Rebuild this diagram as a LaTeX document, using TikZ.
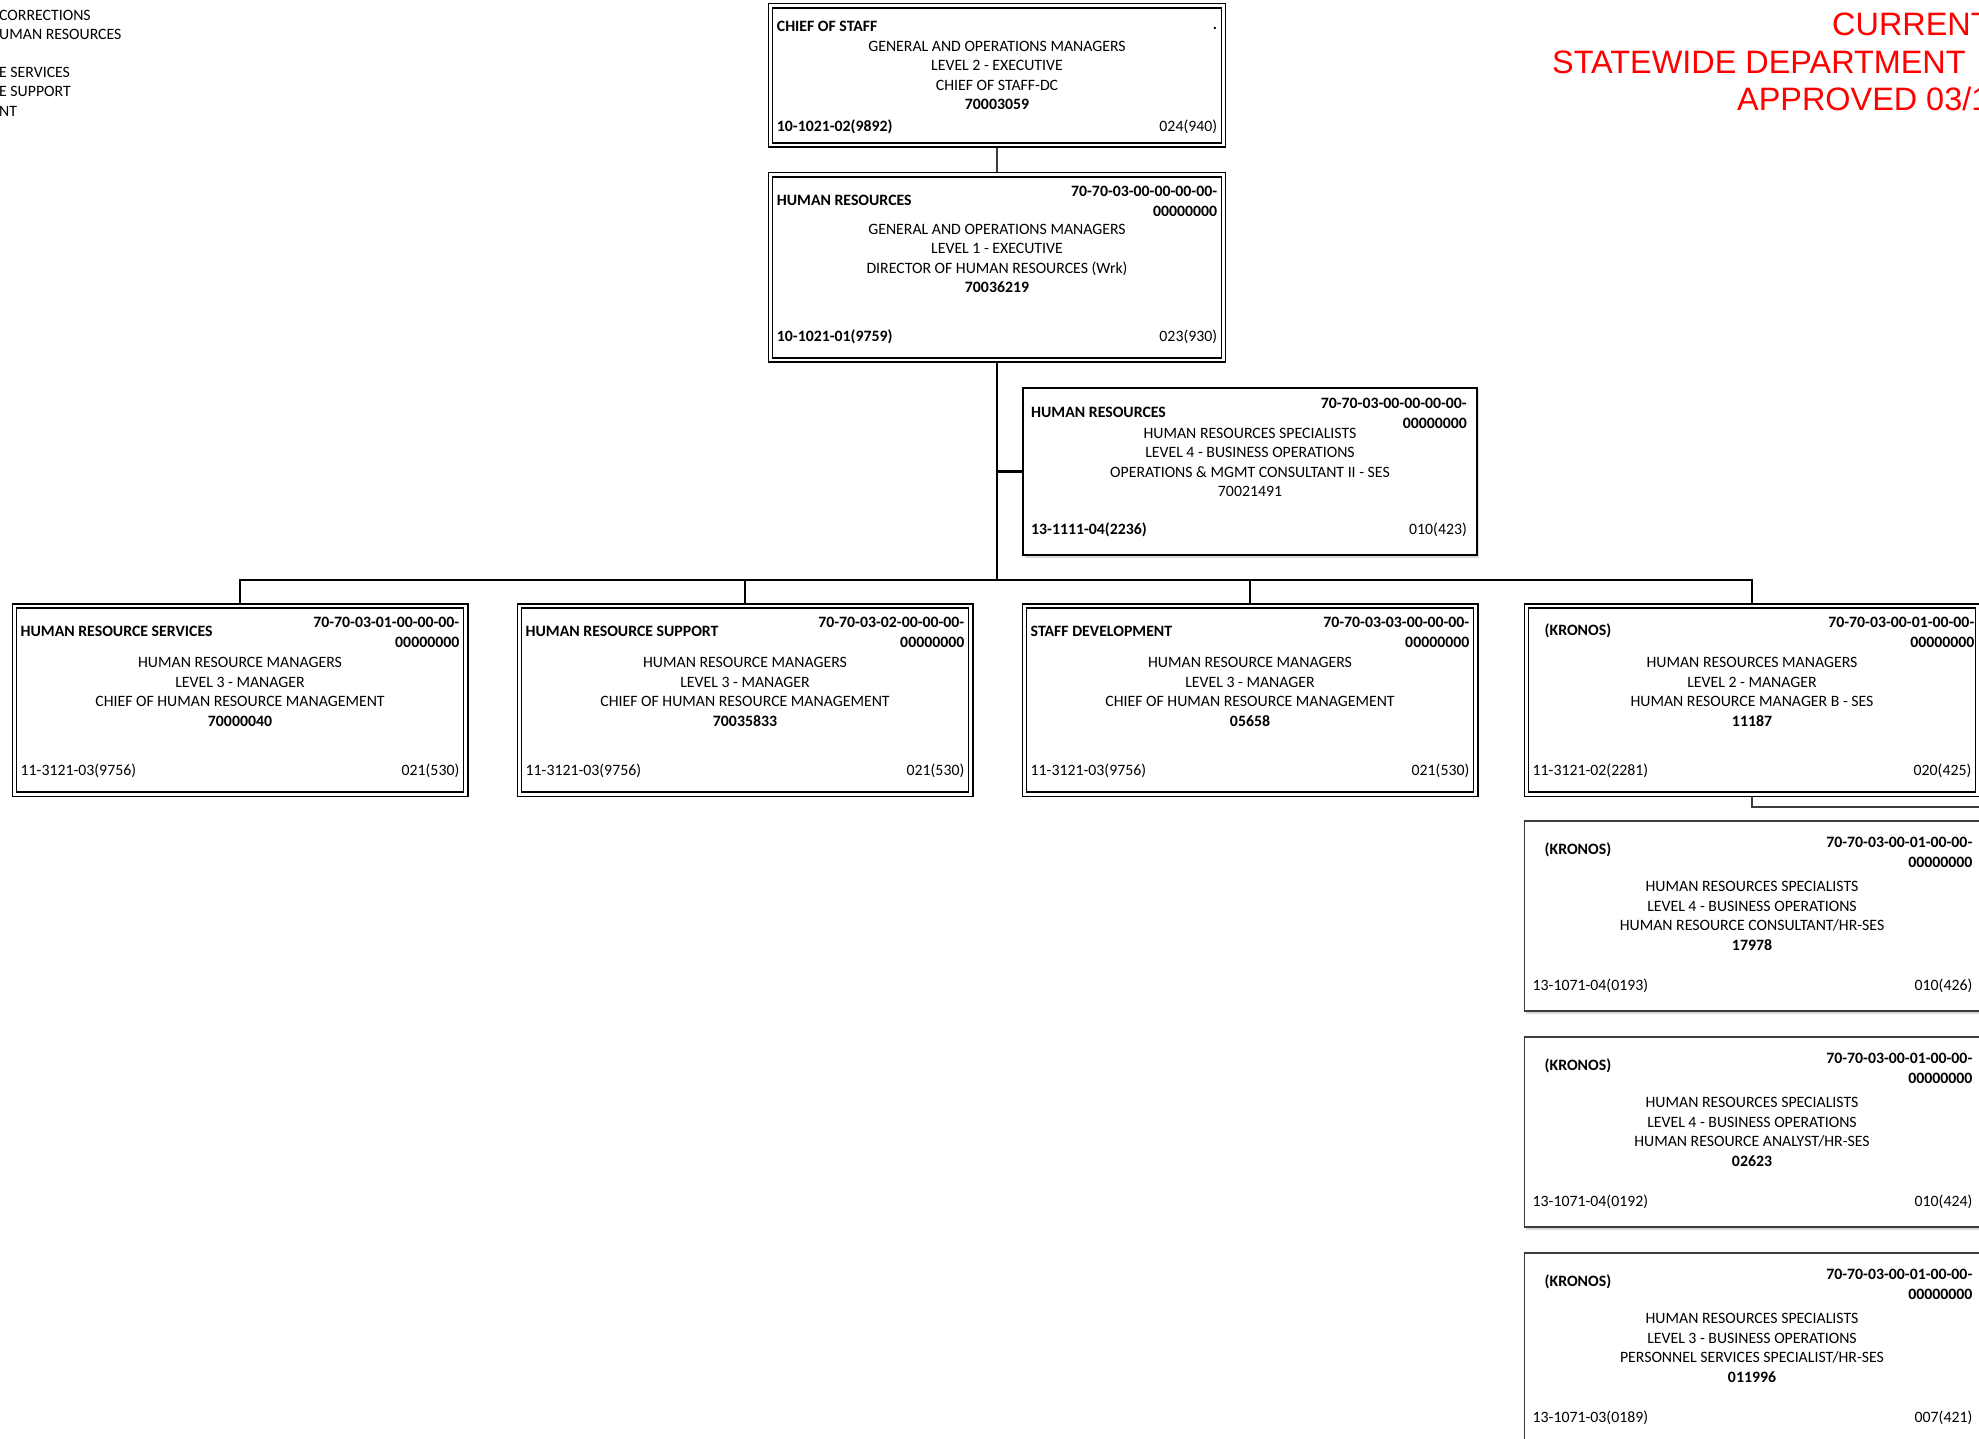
\documentclass[tikz,border=0pt]{standalone}
\usepackage{fontspec}
\setmainfont{Carlito}
\newfontfamily\stampfont{Liberation Sans}
\usetikzlibrary{positioning,shadows}
\definecolor{chartred}{HTML}{FF0000}
\definecolor{chartgrey}{HTML}{3C3C3C}
\newcommand{\chartfont}{\fontsize{15.8}{19.5}\selectfont}

\begin{document}
\begin{tikzpicture}[x=1pt,y=-1pt,font=\chartfont,
  node distance=24pt and 48pt,
  boxshadow/.style={drop shadow={shadow xshift=2pt,shadow yshift=-2.5pt,opacity=.3}},
  posbox/.style={draw=black,fill=white,line width=1.5pt,double,double distance=2.6pt,
                 outer sep=2.8pt,minimum width=451.4pt,minimum height=188.4pt,boxshadow},
  solobox/.style={draw=black,fill=white,line width=1.6pt,outer sep=.8pt,
                  minimum width=454.4pt,minimum height=167.4pt,boxshadow},
  kronbox/.style={draw=chartgrey,fill=white,line width=1.6pt,outer sep=.8pt,
                  minimum width=455.4pt,minimum height=190.4pt,boxshadow},
  ttl/.style={anchor=west,inner sep=0pt,font=\chartfont\bfseries,xshift=9pt,yshift=-28pt},
  codetag/.style={anchor=north east,inner sep=0pt,align=right,font=\chartfont\bfseries,
                  xshift=-9pt,yshift=-14pt},
  midtext/.style={anchor=center,inner sep=0pt,align=center,yshift=8pt},
  leftcode/.style={anchor=west,inner sep=0pt,xshift=9pt,yshift=26pt},
  leftbold/.style={leftcode,font=\chartfont\bfseries},
  rightcode/.style={anchor=east,inner sep=0pt,xshift=-9pt,yshift=26pt},
  dotmark/.style={anchor=base east,inner sep=0pt,font=\chartfont\bfseries,
                  xshift=-9pt,yshift=-27pt},
  spine/.style={line width=2.2pt,black},
  link/.style={line width=2pt,chartgrey},
  stamp/.style={anchor=base west,inner sep=0pt,text=chartred,
                font=\stampfont\fontsize{32.4}{38}\selectfont},
  sidenote/.style={anchor=base west,inner sep=0pt}]

  \useasboundingbox (0,0) rectangle (1979,1439);

  % page header fragments
  \node[sidenote] (notea) at (-1,20.5) {CORRECTIONS};
  \node[sidenote] (noteb) at (-1,39.5) {UMAN RESOURCES};
  \node[sidenote] (notec) at (-1,77.5) {E SERVICES};
  \node[sidenote] (noted) at (-1,96.5) {E SUPPORT};
  \node[sidenote] (notee) at (-1,116.5) {NT};
  \node[stamp] (stampa) at (1832,36) {CURRENT};
  \node[stamp] (stampb) at (1552,74) {STATEWIDE DEPARTMENT};
  \node[stamp] (stampc) at (1737,111) {APPROVED 03/1};

  % top of the chain
  \node[posbox,minimum width=453pt,minimum height=139.4pt,
    label={[ttl,yshift=5pt]north west:CHIEF OF STAFF},
    label={[dotmark]north east:.},
    label={[midtext,yshift=-8pt]center:{GENERAL AND OPERATIONS MANAGERS\\LEVEL 2 - EXECUTIVE\\CHIEF OF STAFF-DC\\\textbf{70003059}}},
    label={[leftbold,yshift=-5pt]south west:10-1021-02(9892)},
    label={[rightcode,yshift=-5pt]south east:024(940)}] (cos) at (997,75.5) {};
  \node[posbox,below=of cos,minimum width=453pt,minimum height=185.4pt,
    label={[ttl]north west:HUMAN RESOURCES},
    label={[codetag]north east:{70-70-03-00-00-00-00-\\00000000}},
    label={[midtext,yshift=1pt]center:{GENERAL AND OPERATIONS MANAGERS\\LEVEL 1 - EXECUTIVE\\DIRECTOR OF HUMAN RESOURCES (Wrk)\\\textbf{70036219}}},
    label={[leftbold]south west:10-1021-01(9759)},
    label={[rightcode]south east:023(930)}] (hrdir) {};

  % section heads
  \node[posbox,
    label={[ttl]north west:HUMAN RESOURCE SERVICES},
    label={[codetag]north east:{70-70-03-01-00-00-00-\\00000000}},
    label={[midtext]center:{HUMAN RESOURCE MANAGERS\\LEVEL 3 - MANAGER\\CHIEF OF HUMAN RESOURCE MANAGEMENT\\\textbf{70000040}}},
    label={[leftcode]south west:11-3121-03(9756)},
    label={[rightcode]south east:021(530)}] (hrs) at (240,700) {};
  \node[posbox,right=of hrs,
    label={[ttl]north west:HUMAN RESOURCE SUPPORT},
    label={[codetag]north east:{70-70-03-02-00-00-00-\\00000000}},
    label={[midtext]center:{HUMAN RESOURCE MANAGERS\\LEVEL 3 - MANAGER\\CHIEF OF HUMAN RESOURCE MANAGEMENT\\\textbf{70035833}}},
    label={[leftcode]south west:11-3121-03(9756)},
    label={[rightcode]south east:021(530)}] (hrsup) {};
  \node[posbox,right=of hrsup,
    label={[ttl]north west:STAFF DEVELOPMENT},
    label={[codetag]north east:{70-70-03-03-00-00-00-\\00000000}},
    label={[midtext]center:{HUMAN RESOURCE MANAGERS\\LEVEL 3 - MANAGER\\CHIEF OF HUMAN RESOURCE MANAGEMENT\\\textbf{05658}}},
    label={[leftcode]south west:11-3121-03(9756)},
    label={[rightcode]south east:021(530)}] (staff) {};
  \node[posbox,right=45pt of staff,
    label={[ttl,xshift=12pt]north west:(KRONOS)},
    label={[codetag,xshift=3pt]north east:{70-70-03-00-01-00-00-\\00000000}},
    label={[midtext]center:{HUMAN RESOURCES MANAGERS\\LEVEL 2 - MANAGER\\HUMAN RESOURCE MANAGER B - SES\\\textbf{11187}}},
    label={[leftcode]south west:11-3121-02(2281)},
    label={[rightcode]south east:020(425)}] (kron) {};

  % staff position beside the spine
  \node[solobox,above=47pt of staff,
    label={[ttl,yshift=3pt]north west:HUMAN RESOURCES},
    label={[codetag,xshift=-2pt,yshift=3pt]north east:{70-70-03-00-00-00-00-\\00000000}},
    label={[midtext,yshift=1pt]center:{HUMAN RESOURCES SPECIALISTS\\LEVEL 4 - BUSINESS OPERATIONS\\OPERATIONS \& MGMT CONSULTANT II - SES\\70021491}},
    label={[leftbold]south west:13-1111-04(2236)},
    label={[rightcode,xshift=-2pt]south east:010(423)}] (hrspec) {};

  % kronos staff
  \node[kronbox,below=23pt of kron,
    label={[ttl,xshift=12pt,yshift=-2pt]north west:(KRONOS)},
    label={[codetag,xshift=1pt,yshift=-3pt]north east:{70-70-03-00-01-00-00-\\00000000}},
    label={[midtext,yshift=-8pt]center:{HUMAN RESOURCES SPECIALISTS\\LEVEL 4 - BUSINESS OPERATIONS\\HUMAN RESOURCE CONSULTANT/HR-SES\\\textbf{17978}}},
    label={[leftcode]south west:13-1071-04(0193)},
    label={[rightcode,xshift=1pt]south east:010(426)}] (kronA) {};
  \node[kronbox,below=of kronA,
    label={[ttl,xshift=12pt,yshift=-2pt]north west:(KRONOS)},
    label={[codetag,xshift=1pt,yshift=-3pt]north east:{70-70-03-00-01-00-00-\\00000000}},
    label={[midtext,yshift=-8pt]center:{HUMAN RESOURCES SPECIALISTS\\LEVEL 4 - BUSINESS OPERATIONS\\HUMAN RESOURCE ANALYST/HR-SES\\\textbf{02623}}},
    label={[leftcode]south west:13-1071-04(0192)},
    label={[rightcode,xshift=1pt]south east:010(424)}] (kronB) {};
  \node[kronbox,below=of kronB,
    label={[ttl,xshift=12pt,yshift=-2pt]north west:(KRONOS)},
    label={[codetag,xshift=1pt,yshift=-3pt]north east:{70-70-03-00-01-00-00-\\00000000}},
    label={[midtext,yshift=-8pt]center:{HUMAN RESOURCES SPECIALISTS\\LEVEL 3 - BUSINESS OPERATIONS\\PERSONNEL SERVICES SPECIALIST/HR-SES\\\textbf{011996}}},
    label={[leftcode]south west:13-1071-03(0189)},
    label={[rightcode,xshift=1pt]south east:007(421)}] (kronC) {};

  % connectors
  \coordinate (fork) at (997,580);
  \coordinate (kronrail) at (1995,807);
  \draw[link] (cos) -- (hrdir);
  \draw[spine] (hrdir) -- (fork);
  \draw[spine] (fork |- hrspec.west) -- (hrspec.west);
  \draw[spine] (hrs.north) |- (fork) -| (kron.north);
  \draw[spine] (hrsup.north) -- (hrsup.north |- fork);
  \draw[spine] (staff.north) -- (staff.north |- fork);
  \draw[link] (kron.south) |- (kronrail);
\end{tikzpicture}
\end{document}
